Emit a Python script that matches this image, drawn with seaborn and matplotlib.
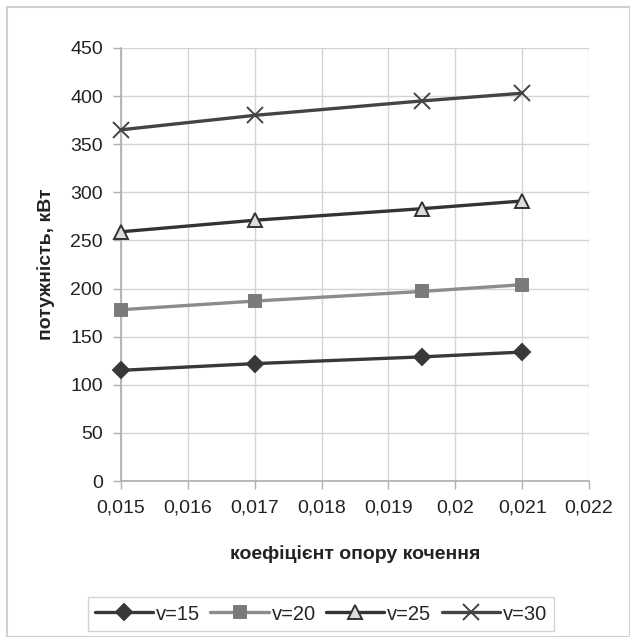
import matplotlib
matplotlib.use("Agg")
import matplotlib.pyplot as plt
import seaborn as sns
import pandas as pd
from matplotlib.patches import Rectangle
from matplotlib.ticker import FuncFormatter, MultipleLocator

x_vals = [0.015, 0.017, 0.0195, 0.021]
v15 = [115, 122, 129, 134]
v20 = [178, 187, 197, 204]
v25 = [259, 271, 283, 291]
v30 = [365, 380, 395, 403]
series_names = ["v=15", "v=20", "v=25", "v=30"]
xlabel = "коефіцієнт опору кочення"
ylabel = "потужність, кВт"

sns.set_theme(style="white")
plt.rcParams["font.family"] = ["Liberation Sans", "DejaVu Sans"]

fig = plt.figure(figsize=(6.3, 6.37), dpi=100)
fig.patches.append(Rectangle((7/630, 0.0), 1 - 7/630, 1 - 7/637, transform=fig.transFigure,
                             fill=False, edgecolor="#d0d0d0", linewidth=1.5))
ax = fig.add_axes([121/630, 1 - 481/637, (589 - 121)/630, (481 - 48)/637])

styles = [
    dict(color="#383838", marker="D", markersize=8, mfc="#383838", mec="#383838"),
    dict(color="#8c8c8c", marker="s", markersize=9, mfc="#7a7a7a", mec="#7a7a7a"),
    dict(color="#333333", marker="^", markersize=10, mfc="#dedede", mec="#333333"),
    dict(color="#444444", marker="x", markersize=11, mfc="none", mec="#444444"),
]
for name, vals, st in zip(series_names, [v15, v20, v25, v30], styles):
    df = pd.DataFrame({"x": x_vals, "y": vals})
    sns.lineplot(data=df, x="x", y="y", ax=ax, color=st["color"], linewidth=2.4,
                 marker=st["marker"], markersize=st["markersize"],
                 markerfacecolor=st["mfc"], markeredgecolor=st["mec"],
                 markeredgewidth=1.4, label=name, clip_on=False, zorder=3)

ax.set_xlim(0.015, 0.022)
ax.set_ylim(0, 450)
ax.xaxis.set_major_locator(MultipleLocator(0.001))
ax.yaxis.set_major_locator(MultipleLocator(50))
ax.xaxis.set_major_formatter(FuncFormatter(lambda v, p: f"{v:.3f}".rstrip("0").replace(".", ",")))
ax.grid(True, color="#d4d4d4", linewidth=1)
for s in ["top", "right"]:
    ax.spines[s].set_visible(False)
ax.spines["left"].set_color("#b0b0b0")
ax.spines["bottom"].set_color("#b0b0b0")
ax.tick_params(axis="both", labelsize=14, colors="#222222", length=6, width=1,
               direction="out", left=True, bottom=True, pad=7)
ax.tick_params(axis="both", color="#b0b0b0")
ax.set_xlabel(xlabel, fontsize=14, fontweight="bold", color="#222222", labelpad=21)
ax.set_ylabel(ylabel, fontsize=14, fontweight="bold", color="#222222", labelpad=11)

leg = ax.legend(loc="center", bbox_to_anchor=((321 - 121)/468, (481 - 614)/433),
                ncol=4, frameon=True, fontsize=14.5, handlelength=2.9, columnspacing=0.5,
                handletextpad=0.15, borderpad=0.35, fancybox=False)
leg.get_frame().set_edgecolor("#c8c8c8")
leg.get_frame().set_linewidth(1)

fig.savefig("out.png", dpi=100)
